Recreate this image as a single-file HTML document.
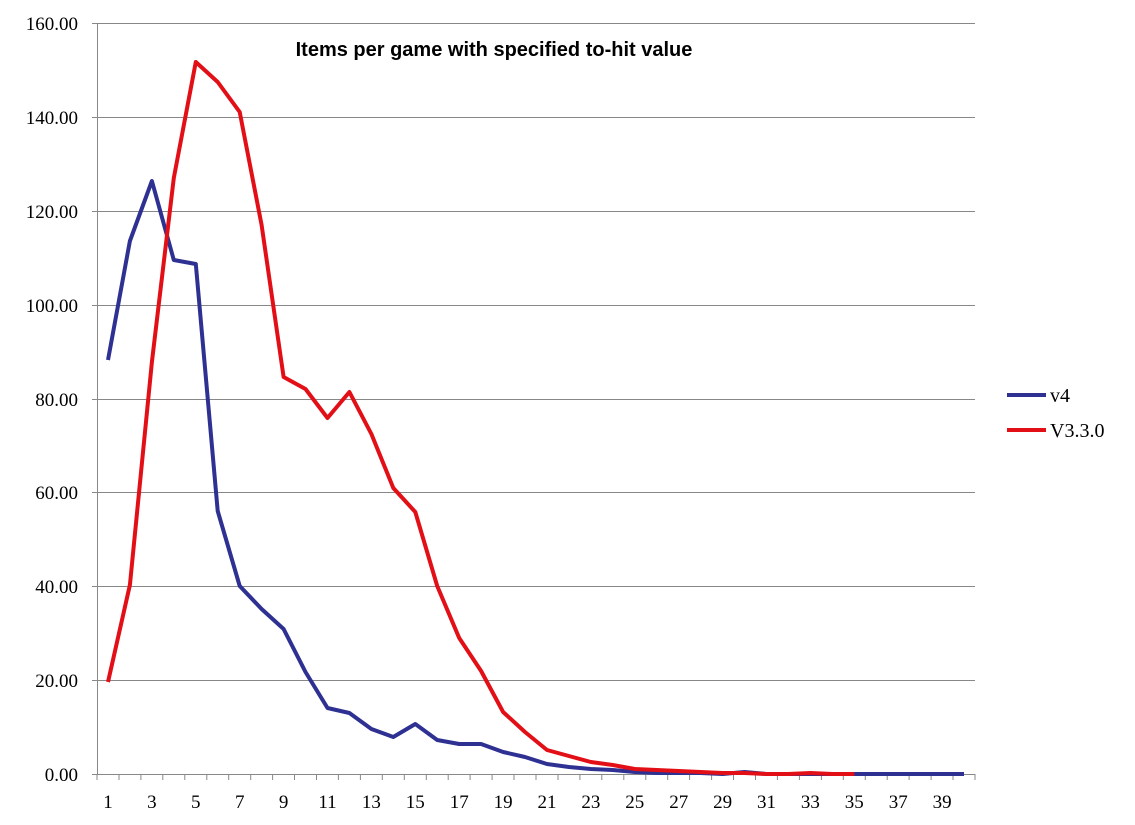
<!DOCTYPE html>
<html><head><meta charset="utf-8"><style>
html,body{margin:0;padding:0;background:#fff;}
svg{display:block;}
.yl{font-family:"Liberation Serif",serif;font-size:19px;fill:#000;text-anchor:end;}
.xl{font-family:"Liberation Serif",serif;font-size:19px;fill:#000;text-anchor:middle;}
</style></head><body>
<svg width="1135" height="825" viewBox="0 0 1135 825" xmlns="http://www.w3.org/2000/svg">
<g stroke="#888" stroke-width="1">
<line x1="92" y1="23.5" x2="975" y2="23.5"/>
<line x1="92" y1="117.5" x2="975" y2="117.5"/>
<line x1="92" y1="211.5" x2="975" y2="211.5"/>
<line x1="92" y1="305.5" x2="975" y2="305.5"/>
<line x1="92" y1="399.5" x2="975" y2="399.5"/>
<line x1="92" y1="492.5" x2="975" y2="492.5"/>
<line x1="92" y1="586.5" x2="975" y2="586.5"/>
<line x1="92" y1="680.5" x2="975" y2="680.5"/>
<line x1="92" y1="774.5" x2="975" y2="774.5"/>
<line x1="97.5" y1="23" x2="97.5" y2="774"/>
</g>
<g id="ticks" stroke="#888" stroke-width="1"></g>
<g>
<text class="yl" x="78" y="30">160.00</text>
<text class="yl" x="78" y="124">140.00</text>
<text class="yl" x="78" y="218">120.00</text>
<text class="yl" x="78" y="312">100.00</text>
<text class="yl" x="78" y="406">80.00</text>
<text class="yl" x="78" y="499">60.00</text>
<text class="yl" x="78" y="593">40.00</text>
<text class="yl" x="78" y="687">20.00</text>
<text class="yl" x="78" y="781">0.00</text>
</g>
<g id="xlabels"></g>
<text x="494" y="56" font-family="Liberation Sans, sans-serif" font-weight="bold" font-size="20" text-anchor="middle">Items per game with specified to-hit value</text>
<polyline id="blue" fill="none" stroke="#2e3192" stroke-width="4" stroke-linejoin="round"/>
<polyline id="red" fill="none" stroke="#e30f17" stroke-width="4" stroke-linejoin="round"/>
<line x1="1007" y1="395" x2="1046" y2="395" stroke="#2e3192" stroke-width="4"/>
<line x1="1007" y1="430" x2="1046" y2="430" stroke="#e30f17" stroke-width="4"/>
<text x="1050" y="402" font-family="Liberation Serif, serif" font-size="20">v4</text>
<text x="1050" y="437" font-family="Liberation Serif, serif" font-size="20">V3.3.0</text>
</svg>
<script>
var b=[360,241,181,260,264,511,586,609,629,672,708,713,729,737,724,740,744,744,752,757,764,767,769,770,772,773,773,773,774,772,774,774,774,774,774,774,774,774,774,774];
var r=[682,585,362,178,62,82,112,225,377,389,418,392,434,488,512,586,638,671,712,732,750,756,762,765,769,770,771,772,773,773,774,774,773,774,774];
function X(i){return 97+(i+0.5)*21.95;}
document.getElementById('blue').setAttribute('points',b.map(function(y,i){return X(i).toFixed(1)+','+y}).join(' '));
document.getElementById('red').setAttribute('points',r.map(function(y,i){return X(i).toFixed(1)+','+y}).join(' '));
var t='',l='';
for(var k=0;k<=40;k++){var x=(97+k*21.95).toFixed(1);t+='<line x1="'+x+'" y1="774" x2="'+x+'" y2="780"/>';}
for(var i=0;i<40;i+=2){l+='<text class="xl" x="'+X(i).toFixed(1)+'" y="808">'+(i+1)+'</text>';}
document.getElementById('ticks').innerHTML=t;
document.getElementById('xlabels').innerHTML=l;
</script>
</body></html>
